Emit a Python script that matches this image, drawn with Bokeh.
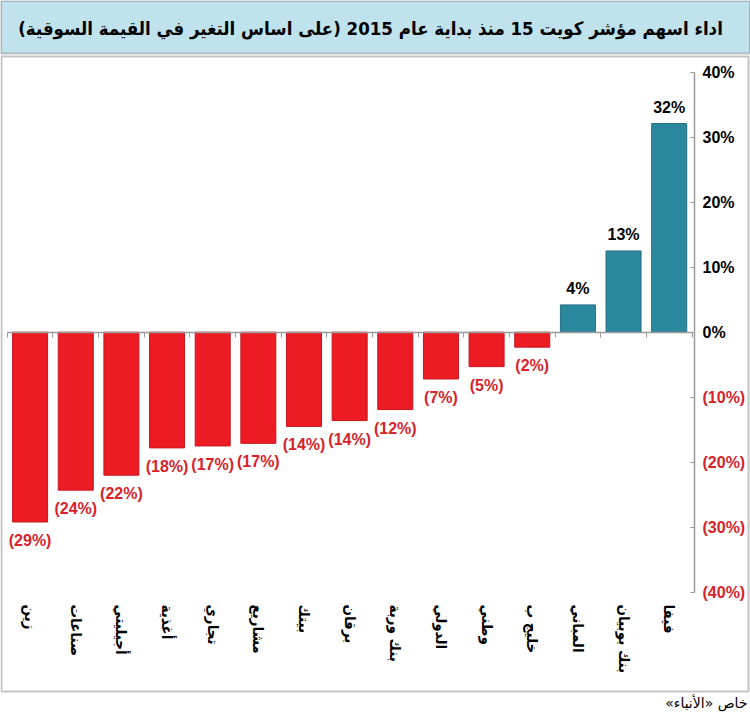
import math
from bokeh.plotting import figure
from bokeh.models import Range1d, LinearAxis, FixedTicker, BoxAnnotation, ColumnDataSource, Label
from bokeh.core.properties import value
from bokeh.embed import file_html
from bokeh.resources import INLINE

# ---------------- data ----------------
title_text = "اداء اسهم مؤشر كويت 15 منذ بداية عام 2015 (على اساس التغير في القيمة السوقية)\u200f"
source_text = "خاص «الأنباء»\u200f"
categories = ["زين", "صناعات", "أجيليتي", "أغذية", "تجاري", "مشاريع", "بيتك", "برقان",
              "بنك وربة", "الدولي", "وطني", "خليج ب", "المباني", "بنك بوبيان", "فيفا"]
changes = [-29.2, -24.3, -22.0, -17.8, -17.5, -17.1, -14.5, -13.6,
           -11.9, -7.2, -5.3, -2.3, 4.2, 12.5, 32.1]
value_labels = ["(29%)", "(24%)", "(22%)", "(18%)", "(17%)", "(17%)", "(14%)", "(14%)",
                "(12%)", "(7%)", "(5%)", "(2%)", "4%", "13%", "32%"]
pos_ticks = [0, 10, 20, 30, 40]
pos_tick_labels = ["0%", "10%", "20%", "30%", "40%"]
neg_ticks = [-10, -20, -30, -40]
neg_tick_labels = ["(10%)", "(20%)", "(30%)", "(40%)"]

# ---------------- styling ----------------
W, H = 750, 723
RED = "#ed1c24"
RED_EDGE = "#c8161d"
TEAL = "#2c889f"
TEAL_EDGE = "#226f82"
RED_TEXT = "#d6232b"
NUM_FONT_NAME = "Liberation Sans"
AR_FONT_NAME = "DejaVu Sans Condensed, DejaVu Sans"
NUM_FONT = value(NUM_FONT_NAME)
AR_FONT = value(AR_FONT_NAME)

# pixel -> data helpers (frame fills whole canvas)
X0, XS = 29.6, 45.65      # px of first bar centre, px per category
Y0, YS = 331.7, 6.5       # px of zero line, px per percent
def dx(px):
    return (px - X0) / XS
def dy(py):
    return (Y0 - py) / YS

p = figure(width=W, height=H, output_backend="svg", toolbar_location=None,
           x_axis_location=None, y_axis_location=None,
           x_range=Range1d(dx(0), dx(W)), y_range=Range1d(dy(H), dy(0)),
           min_border=0, min_border_left=0, min_border_right=0,
           min_border_top=0, min_border_bottom=0)
p.outline_line_color = None
p.background_fill_color = "white"
p.border_fill_color = "white"
p.grid.visible = False

# title band
p.add_layout(BoxAnnotation(left=dx(0.5), right=dx(749.5), top=dy(0.5), bottom=dy(53),
                           fill_color="#bfe2ec", fill_alpha=1.0,
                           line_color="#4a4a4a", line_width=2))
# chart frame box
p.add_layout(BoxAnnotation(left=dx(1), right=dx(748), top=dy(56), bottom=dy(691),
                           fill_color=None, line_color="#3c3c3c", line_width=2))

# bars
idx = list(range(len(categories)))
colors = [TEAL if v >= 0 else RED for v in changes]
edges = [TEAL_EDGE if v >= 0 else RED_EDGE for v in changes]
src = ColumnDataSource(dict(x=idx, top=changes, color=colors, edge=edges,
                            cat=categories, lab=value_labels))
p.vbar(x="x", top="top", bottom=0, width=0.767, source=src,
       fill_color="color", line_color="edge", line_width=1)

# zero axis with boundary ticks
zero_axis = LinearAxis(fixed_location=0,
                       ticker=FixedTicker(ticks=[i - 0.5 for i in range(len(categories) + 1)]),
                       bounds=(-0.5, len(categories) - 0.5),
                       axis_line_color="#9a9a9a", axis_line_width=1.5,
                       major_tick_line_color="#9a9a9a", major_tick_in=0, major_tick_out=5,
                       minor_tick_line_color=None,
                       major_label_overrides={i - 0.5: "" for i in range(len(categories) + 1)},
                       major_label_text_font_size="0px")
p.add_layout(zero_axis, "below")

# right-hand value axes (positive black, negative red)
yx = dx(694)
axis_style = dict(axis_line_color="#9a9a9a", axis_line_width=1.5,
                  major_tick_line_color="#9a9a9a", major_tick_in=4, major_tick_out=0,
                  minor_tick_line_color=None, major_label_standoff=8,
                  major_label_text_font=NUM_FONT_NAME, major_label_text_font_style="bold",
                  major_label_text_font_size="16px")
ax_pos = LinearAxis(fixed_location=yx, ticker=FixedTicker(ticks=pos_ticks), bounds=(0, 40),
                    major_label_overrides=dict(zip(pos_ticks, pos_tick_labels)),
                    major_label_text_color="black", **axis_style)
ax_neg = LinearAxis(fixed_location=yx, ticker=FixedTicker(ticks=neg_ticks), bounds=(-40, 0),
                    major_label_overrides=dict(zip(neg_ticks, neg_tick_labels)),
                    major_label_text_color=RED_TEXT, **axis_style)
p.add_layout(ax_pos, "right")
p.add_layout(ax_neg, "right")

# value labels
pos_src = ColumnDataSource(dict(x=[i for i in idx if changes[i] >= 0],
                                y=[changes[i] for i in idx if changes[i] >= 0],
                                t=[value_labels[i] for i in idx if changes[i] >= 0]))
neg_src = ColumnDataSource(dict(x=[i for i in idx if changes[i] < 0],
                                y=[changes[i] for i in idx if changes[i] < 0],
                                t=[value_labels[i] for i in idx if changes[i] < 0]))
p.text(x="x", y="y", text="t", source=pos_src, text_align="center", text_baseline="bottom",
       y_offset=-8, text_font=NUM_FONT, text_font_style="bold", text_font_size="16px",
       text_color="black")
p.text(x="x", y="y", text="t", source=neg_src, text_align="center", text_baseline="top",
       y_offset=10, text_font=NUM_FONT, text_font_style="bold", text_font_size="16px",
       text_color=RED_TEXT)

# category labels, rotated
p.text(x="x", y=dy(604), text="cat", source=src, angle=-math.pi / 2,
       text_align="left", text_baseline="middle", text_font=AR_FONT,
       text_font_style="bold", text_font_size="15px", text_color="black")

# title and source
p.add_layout(Label(x=dx(370), y=dy(28), text=title_text, text_align="center",
                   text_baseline="middle", text_font=AR_FONT_NAME, text_font_style="bold",
                   text_font_size="18.5px", text_color="black"))
p.add_layout(Label(x=dx(747), y=dy(702), text=source_text, text_align="right",
                   text_baseline="middle", text_font="DejaVu Sans", text_font_size="14px",
                   text_color="black"))

open("out.html", "w").write(file_html(p, INLINE))
